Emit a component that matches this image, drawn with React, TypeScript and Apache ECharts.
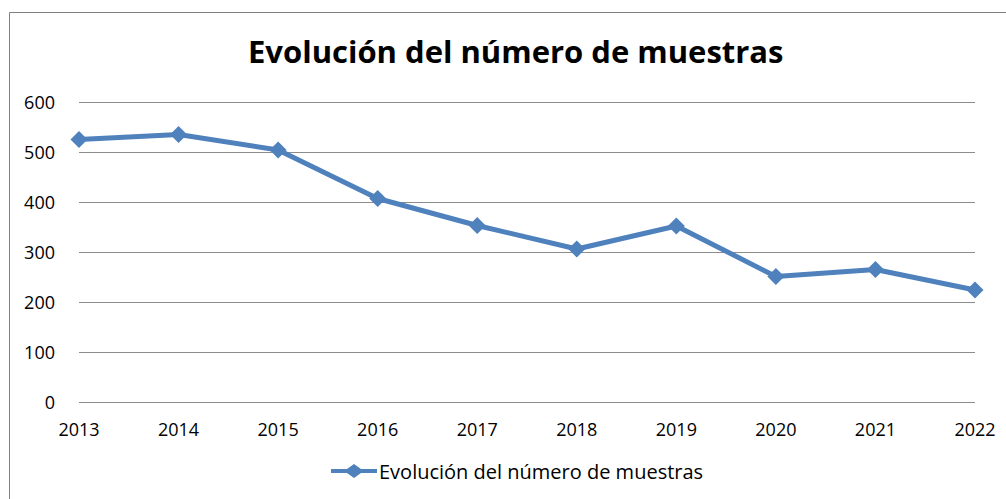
import React, { useEffect, useRef } from "react";
import * as echarts from "echarts";

const years = ["2013", "2014", "2015", "2016", "2017", "2018", "2019", "2020", "2021", "2022"];
const muestras = [525, 535, 504, 407, 353, 306, 352, 251, 265, 224];
const seriesName = "Evolución del número de muestras";
const titleText = "Evolución del número de muestras";

export default function App() {
  const ref = useRef<HTMLDivElement>(null);
  useEffect(() => {
    const chart = echarts.init(ref.current!, null, { renderer: "svg" });
    const font = "'Open Sans', 'Noto Sans', sans-serif";
    chart.setOption({
      animation: false,
      backgroundColor: "#ffffff",
      title: {
        text: titleText,
        left: 243,
        top: 30,
        textStyle: { fontFamily: font, fontWeight: "bold", fontSize: 31, color: "#000" },
      },
      legend: {
        bottom: 13,
        left: 326,
        itemWidth: 46,
        itemHeight: 14,
        itemGap: 2,
        textStyle: { fontFamily: font, fontSize: 20, color: "#000", padding: [0, 0, 0, -3] },
        data: [{ name: seriesName, icon: "path://M0,5 L16,5 L23,0 L30,5 L46,5 L46,9 L30,9 L23,14 L16,9 L0,9 Z" }],
      },
      grid: { left: 79, right: 31, top: 102, bottom: 97, containLabel: false },
      xAxis: {
        type: "category",
        data: years,
        boundaryGap: false,
        axisLine: { show: false },
        axisTick: { show: false },
        axisLabel: { fontFamily: font, fontSize: 18, color: "#000", margin: 18 },
      },
      yAxis: {
        type: "value",
        min: 0,
        max: 600,
        interval: 100,
        axisLine: { show: false },
        axisTick: { show: false },
        axisLabel: { fontFamily: font, fontSize: 18, color: "#000", margin: 24 },
        splitLine: { lineStyle: { color: "#8c8c8c", width: 1 } },
      },
      series: [
        {
          name: seriesName,
          type: "line",
          data: muestras,
          symbol: "diamond",
          symbolSize: 17,
          itemStyle: { color: "#4f81bd" },
          lineStyle: { color: "#4f81bd", width: 5 },
        },
      ],
      graphic: [
        {
          type: "polyline",
          shape: { points: [[9.5, 499], [9.5, 12.5], [1006, 12.5]] },
          style: { stroke: "#808080", lineWidth: 1, fill: "none" },
          silent: true,
        },
      ],
    });
    return () => chart.dispose();
  }, []);
  return <div ref={ref} style={{ position: "fixed", left: 0, top: 0, width: 1006, height: 499 }} />;
}
